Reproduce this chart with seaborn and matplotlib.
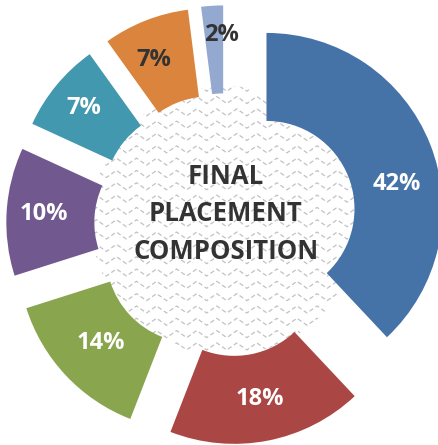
import numpy as np
import matplotlib
matplotlib.use("Agg")
import matplotlib.pyplot as plt
import matplotlib.patches as mpatches
import seaborn as sns

# slice sizes as drawn in the picture (clockwise from 12 o'clock);
# the printed labels do not quite match the arc sizes, so both are kept
shares = [38, 17.9, 14.2, 11.75, 8.25, 7.9, 2.0]
labels = ["42%", "18%", "14%", "10%", "7%", "7%", "2%"]
colors = ["#4572A7", "#AA4643", "#89A54E", "#71588F", "#4198AF", "#DB843D", "#93A9CF"]
label_colors = ["white", "white", "white", "white", "white", "#333333", "#333333"]
# angular nudges (deg) of labels off the wedge bisector
label_shift = [-11, 0, 0, 0, 0, 3, -3]
label_rad = [0.755, 0.76, 0.73, 0.79, 0.795, 0.775, 0.83]
center_title = "FINAL\nPLACEMENT\nCOMPOSITION"

sns.set_theme(style="white")
plt.rcParams["font.family"] = ["Open Sans", "DejaVu Sans"]

fig = plt.figure(figsize=(4.39, 4.45), dpi=100)
ax = fig.add_axes([0, 0, 1, 1])

# hatched background disc with dashed zigzag rows
disc = mpatches.Circle((0, 0.025), 0.765, facecolor="white", edgecolor="none", zorder=0)
ax.add_patch(disc)
xs = np.arange(-0.85, 0.86, 0.0285)
zig = np.abs((np.arange(len(xs)) % 4) - 2) / 2.0
for y0 in np.arange(-0.85, 0.9, 0.07):
    ln, = ax.plot(xs, y0 + zig * 0.04, color="#c2c2c2", lw=0.9,
                  ls=(0, (3.5, 2.2)), zorder=0.5)
    ln.set_clip_path(disc)

wedges, _ = ax.pie(shares, colors=colors, startangle=90, counterclock=False,
                   explode=[0.248] * len(shares), radius=1,
                   wedgeprops=dict(width=0.5, linewidth=0, zorder=3))

for w, lab, col, sh, rr in zip(wedges, labels, label_colors, label_shift, label_rad):
    ang = np.deg2rad((w.theta1 + w.theta2) / 2 + sh)
    cx, cy = w.center
    ax.text(cx + rr * np.cos(ang), cy + rr * np.sin(ang), lab,
            ha="center", va="center", color=col, fontsize=17,
            fontweight="bold", zorder=5)

ax.text(0, 0.065, center_title, ha="center", va="center", fontsize=18.5,
        fontweight="bold", color="#333333", linespacing=1.5, zorder=5)

ax.set_xlim(-1.2835, 1.2108)
ax.set_ylim(-1.25, 1.2784)
ax.set_aspect("equal")
ax.axis("off")

fig.savefig("out.png", dpi=100)
